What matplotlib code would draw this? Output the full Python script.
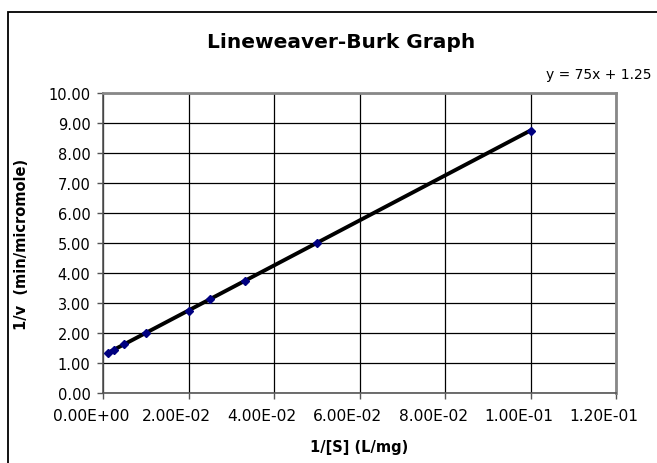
import numpy as np
import matplotlib
matplotlib.use("Agg")
import matplotlib.pyplot as plt
from matplotlib.patches import Rectangle
from matplotlib.ticker import FuncFormatter
from matplotlib.transforms import ScaledTranslation

# data (1/[S] vs 1/v)
inv_s = [0.00125, 0.0025, 0.005, 0.01, 0.02, 0.025, 0.0333, 0.05, 0.1]
inv_v = [1.34, 1.44, 1.63, 2.0, 2.75, 3.13, 3.75, 5.0, 8.75]

x_ticks = [0.0, 0.02, 0.04, 0.06, 0.08, 0.10, 0.12]
y_ticks = [0, 1, 2, 3, 4, 5, 6, 7, 8, 9, 10]

plt.rcParams['font.family'] = ['DejaVu Sans']

W, H = 657, 464
fig = plt.figure(figsize=(W / 100, H / 100), dpi=100)

# outer chart border
fig.patches.append(Rectangle((8 / W, -0.1), 1.2, 1 - 13 / H + 0.1, transform=fig.transFigure,
                             fill=False, edgecolor='black', linewidth=1.3))

ax = fig.add_axes([103 / W, 1 - 394 / H, 513 / W, 300 / H])

# linear trendline
slope, icpt = np.polyfit(inv_s, inv_v, 1)
xs = np.array([min(inv_s), max(inv_s)])
ax.plot(xs, slope * xs + icpt, color='black', linewidth=2.8, zorder=3)
ax.plot(inv_s, inv_v, linestyle='none', marker='D', markersize=4.5,
        color='#000080', zorder=4)

ax.set_xlim(0, 0.12)
ax.set_ylim(0, 10)
ax.set_xticks(x_ticks)
ax.set_yticks(y_ticks)
ax.xaxis.set_major_formatter(FuncFormatter(lambda v, p: '%.2E' % v))
ax.yaxis.set_major_formatter(FuncFormatter(lambda v, p: '%.2f' % v))
ax.grid(True, axis='both', color='black', linewidth=0.9)
ax.set_axisbelow(True)
ax.tick_params(axis='y', labelsize=10.5, length=4, width=1, color='#555555', pad=5)
ax.tick_params(axis='x', labelsize=11.2, length=4, width=1, color='#555555', pad=7)

# excel puts the x labels a bit left of their ticks
shift = ScaledTranslation(-12 / 100, 0, fig.dpi_scale_trans)
for lbl in ax.get_xticklabels():
    lbl.set_transform(lbl.get_transform() + shift)

for s in ['top', 'right']:
    ax.spines[s].set_color('#888888')
    ax.spines[s].set_linewidth(2)
for s in ['left', 'bottom']:
    ax.spines[s].set_color('#555555')
    ax.spines[s].set_linewidth(1.2)

ax.set_xlabel('1/[S] (L/mg)', fontsize=10.5, fontweight='bold', labelpad=11)
ax.set_ylabel('1/v  (min/micromole)', fontsize=10.5, fontweight='bold', labelpad=14)

fig.text(341 / W, 1 - 43 / H, 'Lineweaver-Burk Graph', ha='center', va='center',
         fontsize=14.5, fontweight='bold')
fig.text(651 / W, 1 - 75 / H, 'y = %gx + %g' % (round(slope), round(icpt, 2)),
         ha='right', va='center', fontsize=10)

fig.savefig('out.png', dpi=100)
